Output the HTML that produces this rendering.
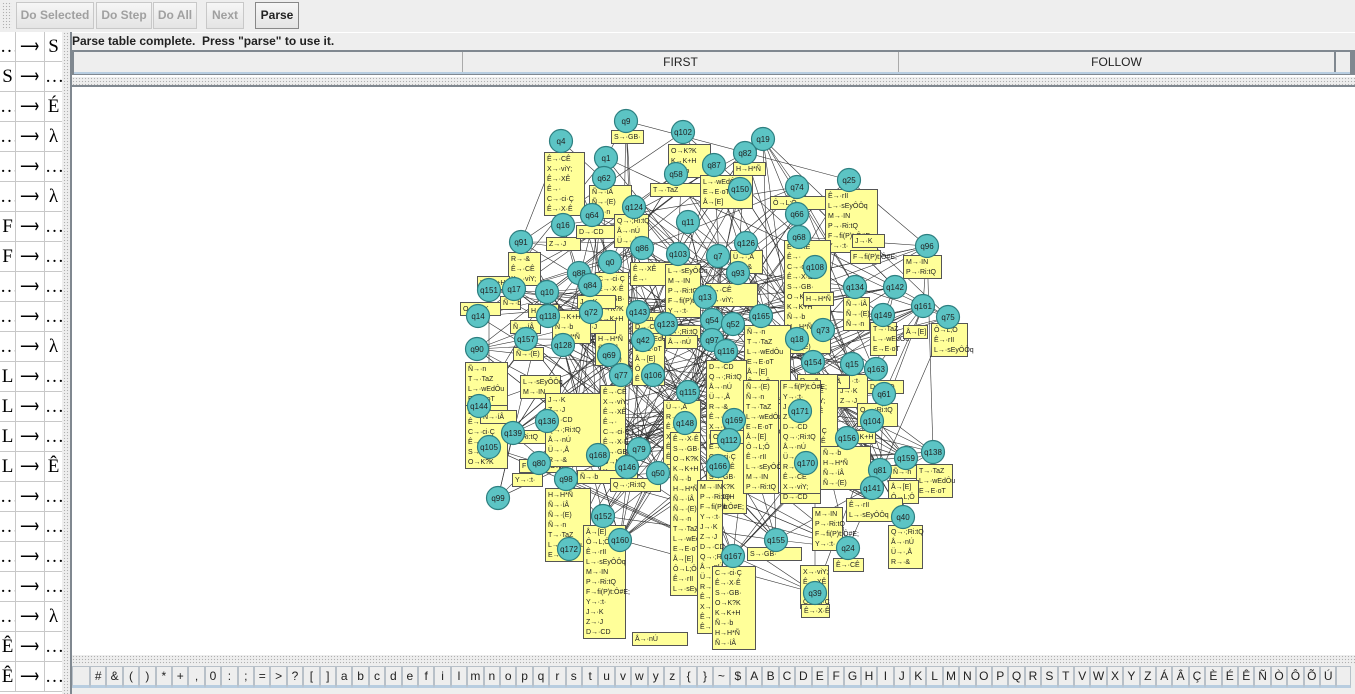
<!DOCTYPE html>
<html><head><meta charset="utf-8">
<style>
*{box-sizing:border-box;margin:0;padding:0}
body{width:1355px;height:694px;overflow:hidden;background:#eeeeee;font-family:"Liberation Sans",sans-serif;position:relative}
.btn{position:absolute;top:2px;height:27px;border:1px solid #c8c8c8;background:linear-gradient(#f6f6f6,#e4e4e4);font-size:12px;font-weight:bold;color:#a0a0a0;text-align:center;line-height:25px}
.grip{position:absolute;background-image:radial-gradient(#b0b0b0 0.7px,transparent 0.8px);background-size:3px 3px}
#gram{position:absolute;left:0;top:32px;width:62px;height:662px;background:#fff}
.row{position:absolute;left:0;width:62px;height:30px;border-bottom:1px solid #c8c8c8;font-family:"Liberation Serif",serif;font-size:19px;overflow:hidden}
.row span{position:absolute;text-align:center;height:30px;line-height:30px;overflow:hidden}
.c1{left:0;width:16px;border-right:1px solid #c8c8c8}
.c2{left:16px;width:29px;border-right:1px solid #c8c8c8}
.c2 i{display:inline-block;font-style:normal;font-size:19px;transform:scaleX(0.7);transform-origin:center;margin-left:-6px;margin-right:-6px}
.c3{left:45px;width:17px}
#terms{position:absolute;left:72px;top:666px;height:22px}
.t{position:absolute;top:0;height:22px;width:16.4px;border:1px solid #b8c0c8;border-bottom:3px solid #b8cde0;background:#eeeeee;font-size:12px;text-align:center;line-height:18px;color:#222}
</style></head><body>
<div class="grip" style="left:2px;top:2px;width:10px;height:28px"></div>
<div class="btn" style="left:16px;width:78px">Do Selected</div>
<div class="btn" style="left:96px;width:56px">Do Step</div>
<div class="btn" style="left:153px;width:44px">Do All</div>
<div class="btn" style="left:206px;width:38px">Next</div>
<div class="btn" style="left:255px;width:44px;color:#222;border-color:#888">Parse</div>

<div id="gram"></div>
<div class="grip" style="left:63px;top:32px;width:7px;height:662px"></div>

<div style="position:absolute;left:70px;top:32px;width:1285px;height:662px;background:#fff;border-left:2px solid #808890"></div>
<div style="position:absolute;left:72px;top:33px;width:1283px;height:17px;background:#eee;font-size:12px;font-weight:bold;line-height:17px;color:#222">Parse table complete.&nbsp; Press "parse" to use it.</div>
<div style="position:absolute;left:72px;top:50px;width:1283px;height:25px;background:#808890"></div>
<div style="position:absolute;left:74px;top:52px;width:1260px;height:20px;background:#eee;font-size:12px;line-height:20px;color:#222">
 <div style="position:absolute;left:0;width:389px;height:20px;border-right:1px solid #aaa"></div>
 <div style="position:absolute;left:389px;width:436px;height:20px;border-right:1px solid #aaa;text-align:center">FIRST</div>
 <div style="position:absolute;left:825px;width:435px;height:20px;text-align:center">FOLLOW</div>
</div>
<div style="position:absolute;left:1336px;top:52px;width:14px;height:20px;background:#eee"></div>
<div style="position:absolute;left:74px;top:72px;width:1276px;height:2px;background:#b8cde0"></div>
<div class="grip" style="left:72px;top:77px;width:1283px;height:8px;background-color:#eee"></div>
<div style="position:absolute;left:72px;top:85px;width:1283px;height:2px;background:#808890"></div>

<svg id="g" style="position:absolute;left:72px;top:87px" width="1283" height="568"></svg>

<div class="grip" style="left:72px;top:655px;width:1283px;height:9px;background-color:#eee"></div>
<div style="position:absolute;left:72px;top:664px;width:1283px;height:30px;background:#eee"></div>
<div id="terms"></div>

<script>
const lhs=["…","S","…","…","…","…","F","F","…","…","…","L","L","L","L","…","…","…","…","…","Ê","Ê"];
const rhs=["S","…","É","λ","…","λ","…","…","…","…","λ","…","…","…","Ê","…","…","…","…","λ","…","…"];
const gram=document.getElementById('gram');
lhs.forEach((l,i)=>{
 const r=document.createElement('div');r.className='row';r.style.top=(i*30)+'px';
 
 
 r.innerHTML='<span class="c1">'+l+'</span><span class="c2"><i>⟶</i></span><span class="c3">'+rhs[i]+'</span>';
 gram.appendChild(r);
});
const symbols="# & ( ) * + , 0 : ; = > ? [ ] a b c d e f i l m n o p q r s t u v w y z { } ~ $ A B C D E F G H I J K L M N O P Q R S T V W X Y Z Á Â Ç È É Ê Ñ Ò Ô Õ Ú".split(' ');
const terms=document.getElementById('terms');
const first=document.createElement('div');first.className='t';first.style.left='0px';first.style.width='18px';


terms.appendChild(first);
symbols.forEach((s,i)=>{
 const d=document.createElement('div');d.className='t';d.style.left=(18+i*16.4)+'px';d.textContent=s;
 
 
 terms.appendChild(d);
});
const last=document.createElement('div');last.className='t';last.style.left=(18+symbols.length*16.4)+'px';last.style.width='15px';


terms.appendChild(last);

const nodeNames=["q9","q4","q102","q19","q82","q1","q87","q62","q58","q150","q74","q25","q64","q124","q11","q66","q16","q91","q86","q103","q126","q68","q96","q0","q7","q93","q108","q134","q142","q88","q84","q151","q17","q10","q13","q161","q75","q14","q72","q118","q143","q123","q54","q52","q165","q149","q73","q157","q42","q97","q116","q18","q128","q90","q69","q154","q15","q163","q77","q106","q115","q61","q144","q171","q148","q169","q136","q104","q139","q156","q138","q159","q105","q79","q168","q80","q145","q170","q81","q166","q98","q141","q99","q152","q40","q160","q172","q155","q24","q167","q39","q146","q50","q112"];
const nodeX=[626,561,683,763,745,606,714,604,676,740,797,849,592,634,688,797,563,521,642,678,746,799,927,610,718,738,815,855,895,579,590,489,514,547,705,923,948,478,591,548,638,666,712,733,761,883,823,526,643,712,726,797,563,477,609,813,852,876,621,653,688,884,479,800,685,734,547,872,513,847,933,906,489,639,598,539,627,806,880,718,566,872,498,603,903,620,569,776,848,733,815,627,658,729];
const nodeY=[121,141,132,139,153,158,165,178,174,189,187,180,215,207,222,214,225,242,248,254,243,237,246,262,256,273,267,287,287,273,285,290,289,292,297,306,317,316,312,316,312,324,320,324,316,315,330,339,340,340,351,339,345,349,355,362,364,369,375,375,392,394,406,411,423,420,421,421,433,438,452,458,447,449,455,463,467,463,470,466,479,488,498,516,517,540,549,540,548,556,593,467,473,440];
const boxX=[544,611,668,733,589,650,700,770,825,852,546,576,614,508,630,595,632,665,577,577,632,662,665,730,705,784,744,706,803,843,870,903,931,903,850,837,867,857,817,797,788,710,845,820,890,916,888,846,812,780,888,833,800,801,747,460,477,500,528,510,513,465,520,505,519,512,545,600,577,545,583,610,632,663,670,697,712,743,780,465,552,480];
const boxY=[152,130,144,162,185,183,175,196,189,234,237,225,214,252,262,272,312,264,295,320,320,325,335,250,283,240,325,360,292,297,322,325,323,255,250,374,380,403,375,374,413,430,430,446,465,464,480,498,507,470,525,558,565,604,547,302,276,296,304,320,347,362,375,430,459,473,393,385,470,488,525,478,632,400,432,480,566,380,380,405,310,410];
const boxLines=[6,1,3,1,3,1,3,1,6,1,1,1,3,3,2,9,7,5,1,1,1,1,1,2,2,11,14,15,1,3,3,1,3,2,1,3,1,2,1,7,1,1,1,4,1,3,2,2,4,3,4,1,4,1,1,1,1,1,1,1,1,7,2,1,1,1,7,9,1,7,11,1,1,7,16,15,8,11,11,6,3,1];
const boxW=[40,32,42,32,42,56,52,70,52,32,34,38,34,32,46,33,32,35,38,38,38,38,32,32,52,46,46,40,30,26,26,24,36,38,30,30,36,40,32,40,32,48,30,50,38,36,30,56,30,40,34,30,28,28,54,40,32,20,30,30,30,42,40,40,40,30,55,25,60,45,42,50,55,37,30,25,43,35,40,42,38,36];
const edgeFrom=[0,1,2,3,4,5,6,7,8,9,10,11,12,13,14,15,16,17,18,19,20,21,22,23,24,25,26,27,28,29,30,31,32,33,34,35,36,37,38,39,40,41,42,43,44,45,46,47,48,49,50,51,52,53,54,55,56,57,58,59,60,61,62,63,64,65,66,67,68,69,70,71,72,73,74,75,76,77,78,79,80,81,82,83,84,85,86,87,88,89,90,91,92,93];
const edgeTo=[5,23,19,10,25,40,33,52,44,64,27,22,54,41,48,26,38,33,66,50,49,60,35,47,64,58,45,36,73,58,63,33,41,48,68,61,28,79,65,79,87,75,58,64,60,28,84,76,85,77,58,88,89,24,65,70,81,31,54,89,73,78,80,13,85,42,63,71,41,67,76,18,75,74,55,89,53,64,6,23,85,33,68,64,59,43,59,3,87,7,35,52,17,42];
const labels=["Ê→·CÊ","X→·viY;","Ê→·XÊ","Ê→·","C→·ci·Ç","Ê→·X·Ê","S→·GB·","O→K?K","K→K+H","Ñ→·b","H→H*Ñ","Ñ→·íÂ","Ñ→·(E)","Ñ→·n","T→·TaZ","L→·wEdÔu","E→E·oT","Å→[E]","Ô→L;Ô","Ê→·rII","L→·sEyÔÔq","M→·IN","P→·Ri:tQ","F→fi(P)t:Ô#E;","Y→·:t·","J→·K","Z→·J","D→·CD","Q→·;Ri:tQ","Å→·nÚ","Ü→·,Å","R→·&"];

const svg=document.getElementById('g');
const NS="http://www.w3.org/2000/svg";
const OX=72,OY=87;
function px(x){return x-OX} function py(y){return y-OY}
const eg=document.createElementNS(NS,'g');svg.appendChild(eg);


const N=nodeX.length;
edgeFrom.forEach((f,i)=>{
 const t=edgeTo[i]%N;
 const pairs=[[f,t],[t,(f*3+7)%N],[f,(f*5+11)%N],[t,(t*7+2)%N]];
 pairs.forEach(p=>{
 const a=p[0],b=p[1];
 const l=document.createElementNS(NS,'line');
 l.setAttribute('x1',px(nodeX[a]));l.setAttribute('y1',py(nodeY[a]));
 l.setAttribute('x2',px(nodeX[b]));l.setAttribute('y2',py(nodeY[b]));
 l.setAttribute('stroke','#333');l.setAttribute('stroke-width','0.6');
 
 
 eg.appendChild(l);});
});
let li=0;
boxX.forEach((x,i)=>{
 const n=boxLines[i],w=boxW[i],h=n*10+3;
 const g=document.createElementNS(NS,'g');svg.appendChild(g);
 
 
 const r=document.createElementNS(NS,'rect');
 r.setAttribute('x',px(x)+.5);r.setAttribute('y',py(boxY[i])+.5);r.setAttribute('width',w);r.setAttribute('height',h);
 r.setAttribute('fill','#ffff99');r.setAttribute('stroke','#555');r.setAttribute('stroke-width','1');g.appendChild(r);
 for(let j=0;j<n;j++){
  const t=document.createElementNS(NS,'text');
  t.setAttribute('x',px(x)+3);t.setAttribute('y',py(boxY[i])+9+j*10);
  t.setAttribute('font-size','7');t.setAttribute('fill','#222');t.setAttribute('font-family','Liberation Sans, sans-serif');
  t.textContent=labels[(li++)%labels.length];g.appendChild(t);
 }
});
nodeX.forEach((x,i)=>{
 const g=document.createElementNS(NS,'g');svg.appendChild(g);
 
 
 const c=document.createElementNS(NS,'circle');
 c.setAttribute('cx',px(x));c.setAttribute('cy',py(nodeY[i]));c.setAttribute('r',11.5);
 c.setAttribute('fill','#5cc4c4');c.setAttribute('stroke','#2d7f80');c.setAttribute('stroke-width','1.2');g.appendChild(c);
 const t=document.createElementNS(NS,'text');
 t.setAttribute('x',px(x));t.setAttribute('y',py(nodeY[i])+3);t.setAttribute('text-anchor','middle');
 t.setAttribute('font-size','8');t.setAttribute('fill','#222');t.setAttribute('font-family','Liberation Sans, sans-serif');
 t.textContent=nodeNames[i];g.appendChild(t);
});
</script>
</body></html>
